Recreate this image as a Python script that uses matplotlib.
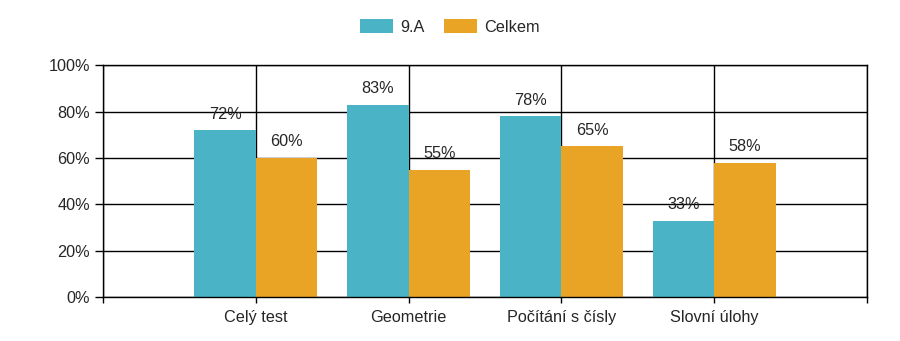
import matplotlib
matplotlib.use("Agg")
import matplotlib.pyplot as plt
from matplotlib.ticker import FuncFormatter
from matplotlib.patches import Patch

plt.rcParams['font.family'] = ['Liberation Sans', 'DejaVu Sans']

categories = ["Celý test", "Geometrie", "Počítání s čísly", "Slovní úlohy"]
series_names = ["9.A", "Celkem"]
values_9a = [72, 83, 78, 33]
values_total = [60, 55, 65, 58]
colors = ["#4BB3C6", "#E9A426"]

fig = plt.figure(figsize=(9, 3.41), dpi=100)
ax = fig.add_axes([0.1141, 0.1282, 0.9637 - 0.1141, 0.8085 - 0.1282])

w = 0.4
x = list(range(len(categories)))
fs = 11.7
tc = "#262626"
for vals, off, c in [(values_9a, -w / 2, colors[0]), (values_total, w / 2, colors[1])]:
    pos = [i + off for i in x]
    bars = ax.bar(pos, vals, width=w, color=c, zorder=2)
    for b, v in zip(bars, vals):
        ax.annotate(f"{v}%", (b.get_x() + b.get_width() / 2, v), xytext=(0, 6.3),
                    textcoords="offset points", ha="center", va="bottom",
                    fontsize=fs, color=tc, zorder=3)

ax.set_xlim(-1, 4)
ax.set_ylim(0, 100)
ax.set_yticks(range(0, 101, 20))
ax.yaxis.set_major_formatter(FuncFormatter(lambda v, p: f"{int(v)}%"))
ax.set_xticks([-1] + x + [4])
ax.set_xticklabels([""] + categories + [""])
ax.tick_params(axis="y", length=6, width=1, labelsize=fs, labelcolor=tc, pad=3)
ax.tick_params(axis="x", length=4, width=1, labelsize=fs, labelcolor=tc, pad=5)
ax.grid(True, color="black", linewidth=1, zorder=0)
ax.set_axisbelow(True)
for s in ax.spines.values():
    s.set_color("black")
    s.set_linewidth(1)

handles = [Patch(facecolor=c, edgecolor="none") for c in colors]
fig.legend(handles, series_names, loc="center", bbox_to_anchor=(0.5, 0.92), ncol=2,
           frameon=False, fontsize=fs, handlelength=2.0, handleheight=0.95,
           handletextpad=0.45, columnspacing=1.2, labelcolor=tc)

fig.savefig("out.png", dpi=100)
